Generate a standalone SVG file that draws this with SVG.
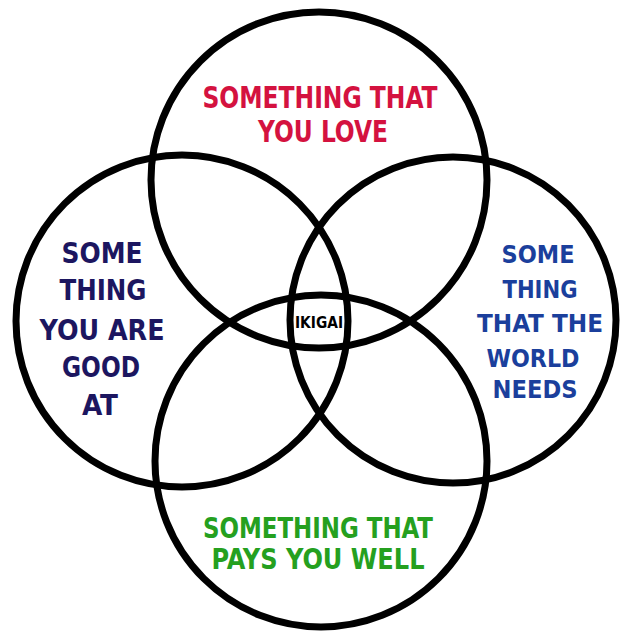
<svg xmlns="http://www.w3.org/2000/svg" width="620" height="631" viewBox="0 0 620 631">
<style>
.c{fill:none;stroke:#000;stroke-width:7}
.t{font-family:"DejaVu Sans Condensed","DejaVu Sans","Liberation Sans Narrow",sans-serif;font-weight:bold;font-stretch:condensed;text-anchor:middle}
.love{fill:#d4123f;font-size:30px}
.good{fill:#1c1660;font-size:29px}
.world{fill:#1b3f9c;font-size:25px}
.pays{fill:#25a01f;font-size:29px}
.ik{fill:#000;font-size:15px}
</style>
<rect width="620" height="631" fill="#fff"/>
<g id="love">
<circle class="c" cx="319" cy="180" r="168"/>
<text class="t love" x="320" y="108" textLength="235" lengthAdjust="spacingAndGlyphs">SOMETHING THAT</text>
<text class="t love" x="323" y="142" textLength="130" lengthAdjust="spacingAndGlyphs">YOU LOVE</text>
</g>
<g id="good">
<circle class="c" cx="182" cy="321" r="166"/>
<text class="t good" x="102" y="263" textLength="81" lengthAdjust="spacingAndGlyphs">SOME</text>
<text class="t good" x="103" y="300" textLength="87" lengthAdjust="spacingAndGlyphs">THING</text>
<text class="t good" x="102" y="340" textLength="125" lengthAdjust="spacingAndGlyphs">YOU ARE</text>
<text class="t good" x="101" y="377" textLength="78" lengthAdjust="spacingAndGlyphs">GOOD</text>
<text class="t good" x="100" y="415" textLength="36" lengthAdjust="spacingAndGlyphs">AT</text>
</g>
<g id="world">
<circle class="c" cx="453" cy="320" r="163"/>
<text class="t world" x="538" y="263" textLength="73" lengthAdjust="spacingAndGlyphs">SOME</text>
<text class="t world" x="540" y="298" textLength="75" lengthAdjust="spacingAndGlyphs">THING</text>
<text class="t world" x="540" y="332" textLength="126" lengthAdjust="spacingAndGlyphs">THAT THE</text>
<text class="t world" x="533" y="367" textLength="93" lengthAdjust="spacingAndGlyphs">WORLD</text>
<text class="t world" x="535" y="398" textLength="85" lengthAdjust="spacingAndGlyphs">NEEDS</text>
</g>
<g id="pays">
<circle class="c" cx="321" cy="461" r="166"/>
<text class="t pays" x="318" y="538" textLength="230" lengthAdjust="spacingAndGlyphs">SOMETHING THAT</text>
<text class="t pays" x="318" y="569" textLength="213" lengthAdjust="spacingAndGlyphs">PAYS YOU WELL</text>
</g>
<g id="ikigai">
<text class="t ik" x="319" y="328" textLength="48" lengthAdjust="spacingAndGlyphs">IKIGAI</text>
</g>
</svg>
